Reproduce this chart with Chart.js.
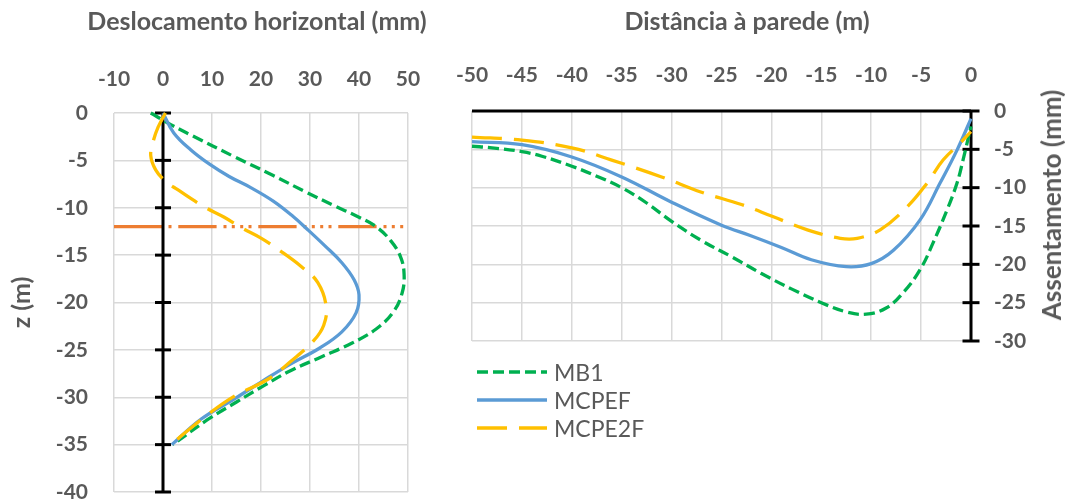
<!DOCTYPE html>
<html>
<head>
<meta charset="utf-8">
<script src="https://cdn.jsdelivr.net/npm/chart.js@4.4.1/dist/chart.umd.min.js"></script>
<style>
  html, body { margin: 0; padding: 0; background: #fff; }
  #fig { position: relative; width: 1065px; height: 503px; overflow: hidden;
         font-family: Lato, "Liberation Sans", sans-serif; color: #595959; }
  #fig canvas { position: absolute; top: 0; }
  .ttl { position: absolute; font-weight: 700; font-size: 25px; white-space: nowrap; line-height: 1; }
  #legend { position: absolute; left: 475px; top: 358px; }
  .item { display: flex; align-items: center; height: 28px; font-size: 23px; line-height: 1; }
  .item svg { margin-right: 5px; }
</style>
</head>
<body>
<div id="fig">
  <canvas id="desloc" width="440" height="503" style="left:0"></canvas>
  <canvas id="assent" width="625" height="503" style="left:440px"></canvas>
  <div class="ttl" style="left:257px;top:20px;transform:translate(-50%,-50%)">Deslocamento horizontal (mm)</div>
  <div class="ttl" style="left:747px;top:20px;transform:translate(-50%,-50%)">Distância à parede (m)</div>
  <div class="ttl" style="left:1051px;top:205px;font-size:26px;transform:translate(-50%,-50%) rotate(-90deg)">Assentamento (mm)</div>
  <div id="legend"></div>
</div>
<script>
// ---- Séries ----
const seriesNames  = ['MB1', 'MCPEF', 'MCPE2F'];
const seriesColors = ['#00B050', '#5B9BD5', '#FFC000'];
const seriesDash   = [[11, 5], [], [30, 12]];

// Deslocamento horizontal (mm) em profundidade z (m)
const mb1Desloc   = [-2.5, 1.5, 6, 14.5, 22.5, 29, 35, 40, 43.5, 46.5, 48.5, 49.2, 48.8, 47, 43.5, 38.5, 32.5, 26, 20.5, 15, 9, 2];
const mb1Z        = [0, -1.2, -2.4, -4.6, -6.6, -8.3, -9.8, -11, -12, -13.5, -15.2, -17, -19, -21, -22.8, -24.3, -25.7, -27.2, -28.8, -30.5, -32.4, -35];
const mcpefDesloc = [0, 2.2, 5.7, 9.5, 13.5, 18, 22.5, 26.5, 29.5, 33, 36.5, 39, 40, 39.4, 36.5, 32, 26, 20, 14.5, 7.8, 1.8];
const mcpefZ      = [0, -2.1, -3.9, -5.4, -6.7, -7.9, -9.3, -10.9, -12.3, -14, -15.8, -17.6, -19.2, -21.1, -23.1, -24.8, -26.5, -28.4, -30.2, -32.3, -35];
const mcpe2fDesloc = [0.5, -1, -2, -2.5, -1.5, 0.5, 3, 8.4, 12.5, 16, 20, 23.5, 28.2, 31.6, 33.3, 32.8, 30.8, 26.1, 21.4, 14.5, 9.2, 3, 1.8];
const mcpe2fZ      = [0, -1.5, -3, -4.5, -6, -7.2, -8.1, -9.9, -11, -12.1, -13.2, -14.4, -16.2, -17.9, -20.4, -22.4, -24, -26.2, -28.1, -29.9, -31.8, -34.4, -35];

// Assentamento (mm) em função da distância à parede (m)
const mb1Dist     = [-50, -48, -45, -43, -40, -37.5, -35, -32.5, -30, -27, -24, -21, -18, -15, -12.5, -10.5, -8.5, -6.8, -5.1, -3.8, -2.4, -1.4, -0.8, 0];
const mb1Assent   = [-4.6, -4.8, -5.3, -5.9, -7.2, -8.5, -10, -12, -14.4, -16.9, -19, -21.2, -23.2, -25, -26.2, -26.5, -25.7, -23.7, -20.7, -17.2, -12.9, -9.4, -6.4, -2];
const mcpefDist   = [-50, -45, -40, -35, -30, -25, -22, -19, -16, -12.5, -10, -7.8, -5.1, -3.1, -1.4, 0];
const mcpefAssent = [-4, -4.4, -6, -8.6, -11.9, -14.9, -16.3, -17.8, -19.4, -20.3, -19.9, -18.2, -14.2, -9.4, -5.1, -1];
const mcpe2fDist   = [-50, -45, -40, -36, -31, -27, -23, -19.8, -16.4, -13.1, -11.4, -9.1, -6.4, -4.4, -2.8, -1.1, 0];
const mcpe2fAssent = [-3.4, -3.8, -4.8, -6.4, -8.6, -10.6, -12.2, -13.8, -15.5, -16.6, -16.6, -15.5, -12.5, -9.4, -6.4, -4.2, -2.7];

// Eixos
const deslocTicks = [-10, 0, 10, 20, 30, 40, 50];
const zTicks      = [0, -5, -10, -15, -20, -25, -30, -35, -40];
const distTicks   = [-50, -45, -40, -35, -30, -25, -20, -15, -10, -5, 0];
const assentTicks = [0, -5, -10, -15, -20, -25, -30];
const zEscavacao  = -12;   // cota do fundo da escavação (m)

// ---- Aspecto ----
const txtCol  = '#595959';
const gridCol = '#D9D9D9';
const FONT    = 'Lato';
const tickFont  = { family: FONT, size: 21, weight: 'bold' };
const titleFont = { family: FONT, size: 25, weight: 'bold' };

Chart.defaults.font.family = FONT;
Chart.defaults.color = txtCol;

const pts = (xs, ys) => xs.map((x, i) => ({ x, y: ys[i] }));
const first = a => a[0], last = a => a[a.length - 1];

function curve(idx, xs, ys) {
  return {
    label: seriesNames[idx],
    data: pts(xs, ys),
    borderColor: seriesColors[idx],
    borderDash: seriesDash[idx],
    borderWidth: 3.3,
    showLine: true,
    tension: 0.4,
    pointRadius: 0,
    order: 2 - idx,   // MCPE2F on top, then MCPEF, then MB1
    clip: false
  };
}

// Black axis line with crossing tick marks at each tick value
function axisLine(data, tickRadius) {
  return {
    label: '_eixo',
    data,
    borderColor: '#000',
    backgroundColor: '#000',
    borderWidth: 3,
    showLine: true,
    tension: 0,
    pointStyle: 'line',
    pointRadius: tickRadius,
    pointBorderWidth: 3,
    pointBorderColor: '#000',
    order: 3,
    clip: false
  };
}

function fixHeight(h) {
  return s => { s.height = h; s.paddingLeft = 0; s.paddingRight = 0; };
}
function fixWidth(w) {
  return s => { s.width = w; s.paddingTop = 0; s.paddingBottom = 0; };
}

const commonOpts = {
  responsive: false,
  animation: false,
  events: [],
  plugins: { legend: { display: false }, tooltip: { enabled: false } },
};

// ---- Deslocamento horizontal ----
new Chart(document.getElementById('desloc'), {
  type: 'scatter',
  data: {
    datasets: [
      curve(2, mcpe2fDesloc, mcpe2fZ),
      curve(1, mcpefDesloc, mcpefZ),
      curve(0, mb1Desloc, mb1Z),
      axisLine(zTicks.map(z => ({ x: 0, y: z })), 8),
      {
        label: '_escav1',
        data: [{ x: first(deslocTicks), y: zEscavacao }, { x: 0, y: zEscavacao }],
        borderColor: '#ED7D31', borderWidth: 3.3, showLine: true, pointRadius: 0, order: 4, clip: false
      },
      {
        label: '_escav2',
        data: [{ x: 0, y: zEscavacao }, { x: last(deslocTicks), y: zEscavacao }],
        borderColor: '#ED7D31', borderWidth: 3.3, showLine: true, pointRadius: 0, order: 4, clip: false,
        borderDash: [38.3, 6.9, 3, 5.3, 3, 5.4, 3, 5.3, 3, 6.8],
        borderDashOffset: 64.7
      }
    ]
  },
  options: {
    ...commonOpts,
    layout: { padding: { left: 0, right: 32, top: 0, bottom: 10 } },
    scales: {
      x: {
        type: 'linear', position: 'top',
        min: first(deslocTicks), max: last(deslocTicks),
        afterBuildTicks: s => { s.ticks = deslocTicks.map(v => ({ value: v })); },
        afterFit: fixHeight(113),
        ticks: { font: tickFont, color: txtCol, padding: 21, callback: v => String(v) },
        grid: { color: gridCol, lineWidth: 1.5, drawTicks: false },
        border: { display: false }
      },
      y: {
        type: 'linear', position: 'left',
        min: last(zTicks), max: first(zTicks),
        afterBuildTicks: s => { s.ticks = zTicks.slice().reverse().map(v => ({ value: v })); },
        afterFit: fixWidth(114),
        ticks: { font: tickFont, color: txtCol, padding: 26, callback: v => String(v) },
        grid: { color: gridCol, lineWidth: 1.5, drawTicks: false },
        border: { display: false },
        title: { display: true, text: 'z (m)', font: titleFont, color: txtCol,
                 padding: { top: 7, bottom: 0 } }
      }
    }
  }
});

// ---- Assentamento ----
new Chart(document.getElementById('assent'), {
  type: 'scatter',
  data: {
    datasets: [
      curve(2, mcpe2fDist, mcpe2fAssent),
      curve(1, mcpefDist, mcpefAssent),
      curve(0, mb1Dist, mb1Assent),
      axisLine(assentTicks.map(a => ({ x: last(distTicks), y: a })), 8.5),
      {
        label: '_topo',
        data: [{ x: first(distTicks), y: first(assentTicks) }, { x: last(distTicks), y: first(assentTicks) }],
        borderColor: '#000', borderWidth: 3, showLine: true, pointRadius: 0, order: 3, clip: false
      }
    ]
  },
  options: {
    ...commonOpts,
    layout: { padding: { left: 32, right: 0, top: 0, bottom: 162 } },
    scales: {
      x: {
        type: 'linear', position: 'top',
        min: first(distTicks), max: last(distTicks),
        afterBuildTicks: s => { s.ticks = distTicks.map(v => ({ value: v })); },
        afterFit: fixHeight(111),
        ticks: { font: tickFont, color: txtCol, padding: 23, callback: v => String(v) },
        grid: { color: gridCol, lineWidth: 1.5, drawTicks: false },
        border: { display: false }
      },
      y: {
        type: 'linear', position: 'right',
        min: last(assentTicks), max: first(assentTicks),
        afterBuildTicks: s => { s.ticks = assentTicks.slice().reverse().map(v => ({ value: v })); },
        afterFit: fixWidth(94),
        ticks: { font: tickFont, color: txtCol, padding: 23, callback: v => String(v) },
        grid: { color: gridCol, lineWidth: 1.5, drawTicks: false },
        border: { display: false }
      }
    }
  }
});

// ---- Legenda ----
const legend = document.getElementById('legend');
seriesNames.forEach((name, i) => {
  const row = document.createElement('div');
  row.className = 'item';
  const dash = seriesDash[i].length ? ` stroke-dasharray="${seriesDash[i].join(' ')}"` : '';
  row.innerHTML =
    `<svg width="74" height="10"><line x1="2" y1="5" x2="72" y2="5" stroke="${seriesColors[i]}" stroke-width="3.3"${dash}/></svg>` +
    `<span>${name}</span>`;
  legend.appendChild(row);
});
</script>
</body>
</html>
